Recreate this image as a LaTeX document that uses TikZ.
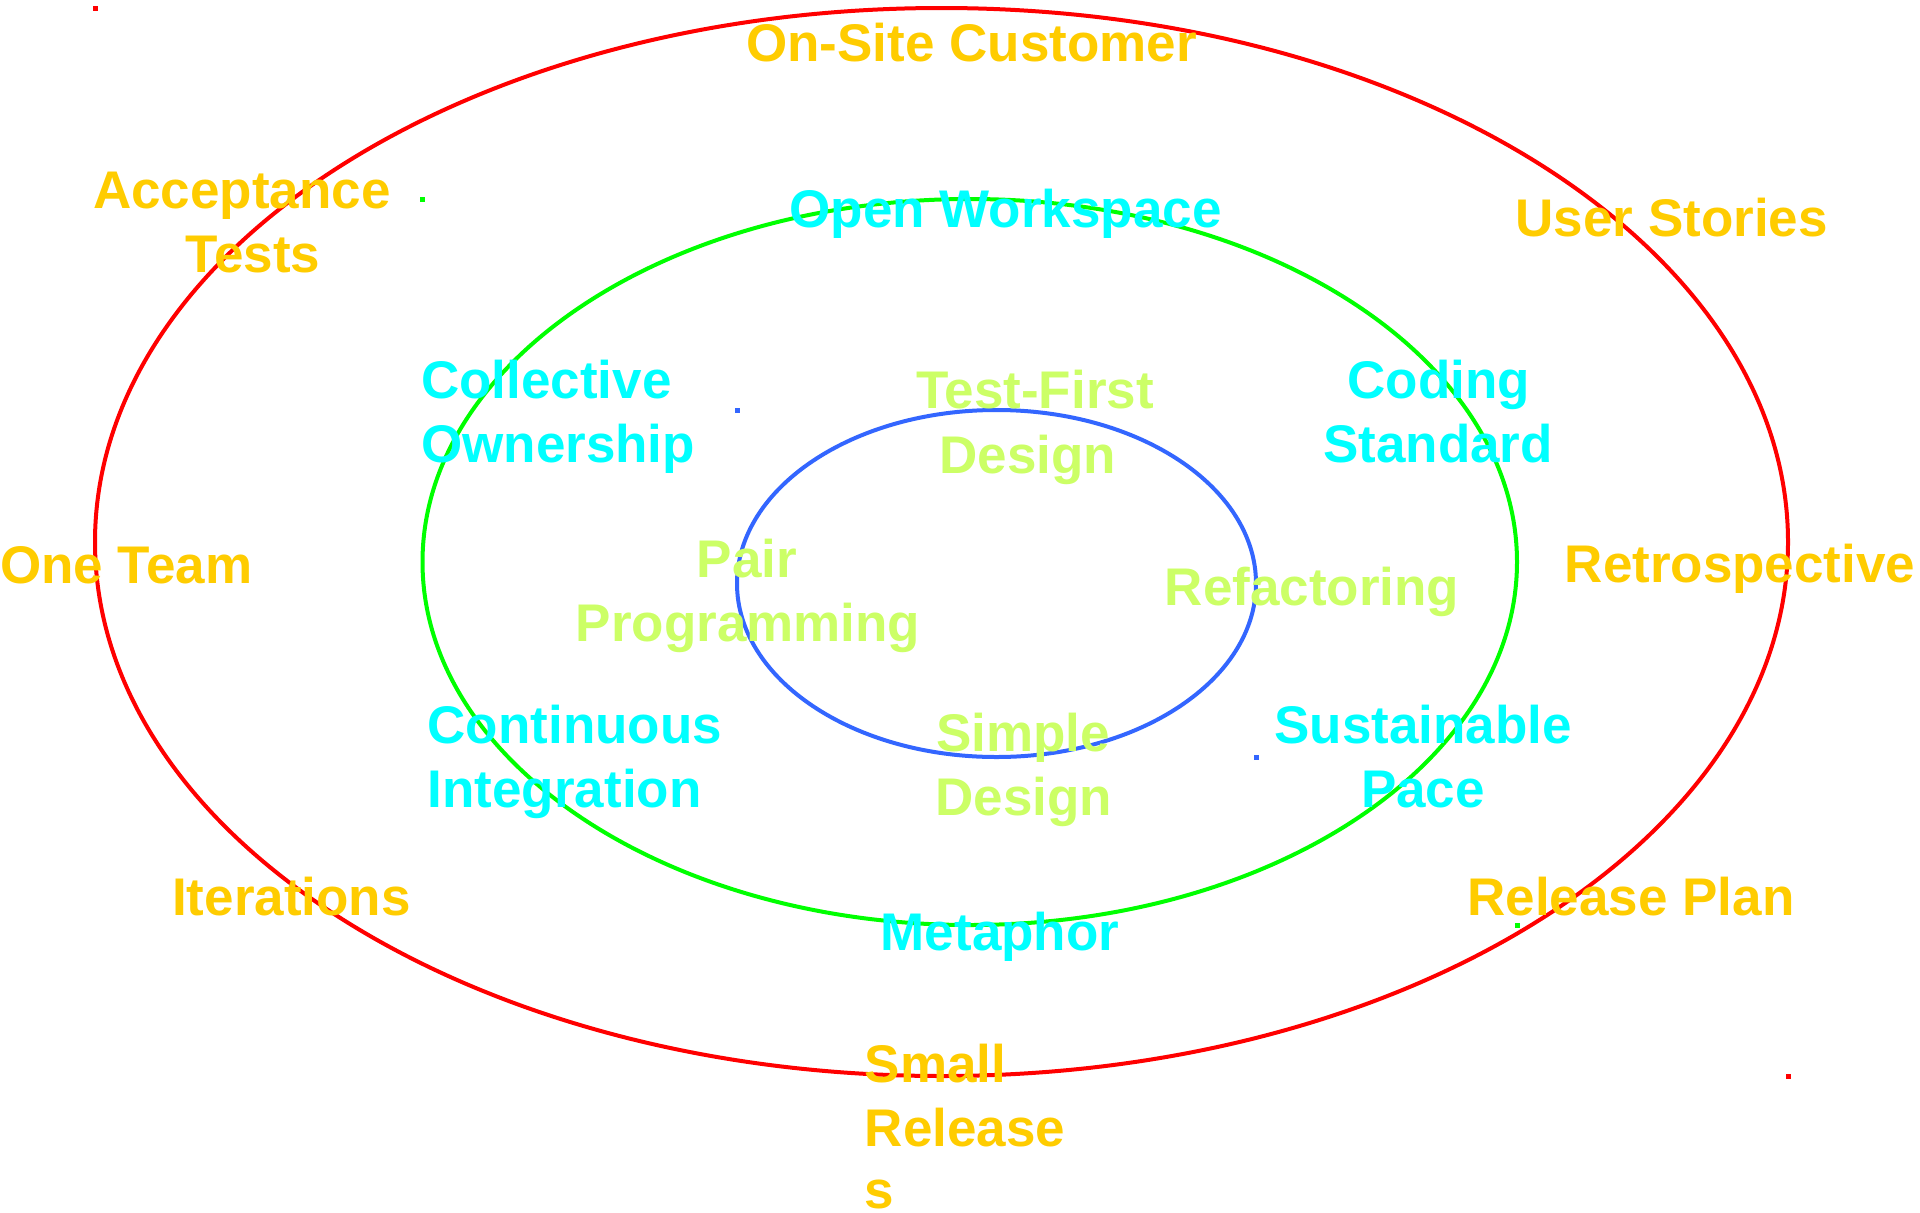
\documentclass[tikz,border=0pt]{standalone}
\usepackage{fontspec}
\setmainfont{Liberation Sans}
\definecolor{outerc}{HTML}{FFCC00}
\definecolor{midc}{HTML}{00FFFF}
\definecolor{innerc}{HTML}{CCFF66}
\definecolor{ringred}{HTML}{FF0000}
\definecolor{ringgreen}{HTML}{00FF00}
\definecolor{ringblue}{HTML}{3366FF}
\begin{document}
\begin{tikzpicture}[x=1pt,y=-1pt,
  lbl/.style={inner sep=0pt, font=\fontsize{53}{64}\selectfont\bfseries, anchor=base},
  outerlbl/.style={lbl, text=outerc},
  midlbl/.style={lbl, text=midc},
  innerlbl/.style={lbl, text=innerc},
  ring/.style={line width=4pt},
  corner/.style={minimum size=5pt, inner sep=0pt, draw=none}
]
\useasboundingbox[fill=white] (0,0) rectangle (1920,1213);

% rings
\draw[ring, ringred]   (941.5,542)  ellipse [x radius=846.5pt, y radius=534pt];
\draw[ring, ringgreen] (969.75,562) ellipse [x radius=547.25pt, y radius=363pt];
\draw[ring, ringblue]  (996.5,583.5) ellipse [x radius=259.5pt, y radius=173.5pt];

% bounding-box corner marks
\node[corner, fill=ringred]   (rtl) at (95,8) {};
\node[corner, fill=ringred]   (rbr) at (1788,1076) {};
\node[corner, fill=ringgreen] (gtl) at (422.5,199) {};
\node[corner, fill=ringgreen] (gbr) at (1517,925) {};
\node[corner, fill=ringblue]  (btl) at (737,410) {};
\node[corner, fill=ringblue]  (bbr) at (1256,757) {};

% outer ring practices
\node[outerlbl] (onsite) at (971.5,61) {On-Site Customer};
\node[outerlbl] (accept1) at (242,208.7) {Acceptance};
\node[outerlbl] (accept2) at (253,272.5) {Tests};
\node[outerlbl] (userst) at (1671.7,236) {User Stories};
\node[outerlbl, anchor=base west] (oneteam) at (0,583.7) {One Team};
\node[outerlbl] (retro) at (1740,582) {Retrospective};
\node[outerlbl] (iter) at (291.5,915.7) {Iterations};
\node[outerlbl] (relplan) at (1631,915.7) {Release Plan};
\node[outerlbl, anchor=base west] (small1) at (864.7,1082) {Small};
\node[outerlbl, anchor=base west] (small2) at (864.7,1146) {Release};
\node[outerlbl, anchor=base west] (small3) at (864.7,1208) {s};

% middle ring practices
\node[midlbl] (openws) at (1005.5,227) {Open Workspace};
\node[midlbl, anchor=base west] (coll1) at (421,398) {Collective};
\node[midlbl, anchor=base west] (coll2) at (421,462.7) {Ownership};
\node[midlbl] (cod1) at (1438.7,398) {Coding};
\node[midlbl] (cod2) at (1438,462.7) {Standard};
\node[midlbl, anchor=base west] (ci1) at (427.5,743.4) {Continuous};
\node[midlbl, anchor=base west] (ci2) at (427.5,807) {Integration};
\node[midlbl] (sus1) at (1423,743) {Sustainable};
\node[midlbl] (sus2) at (1423,807) {Pace};
\node[midlbl] (meta) at (1000,950.5) {Metaphor};

% inner ring practices
\node[innerlbl] (tfd1) at (1035,408) {Test-First};
\node[innerlbl] (tfd2) at (1027.7,473) {Design};
\node[innerlbl] (pp1) at (747,577) {Pair};
\node[innerlbl] (pp2) at (748,641.7) {Programming};
\node[innerlbl] (refac) at (1312,605) {Refactoring};
\node[innerlbl] (sd1) at (1023,751.7) {Simple};
\node[innerlbl] (sd2) at (1024,815) {Design};
\end{tikzpicture}
\end{document}
